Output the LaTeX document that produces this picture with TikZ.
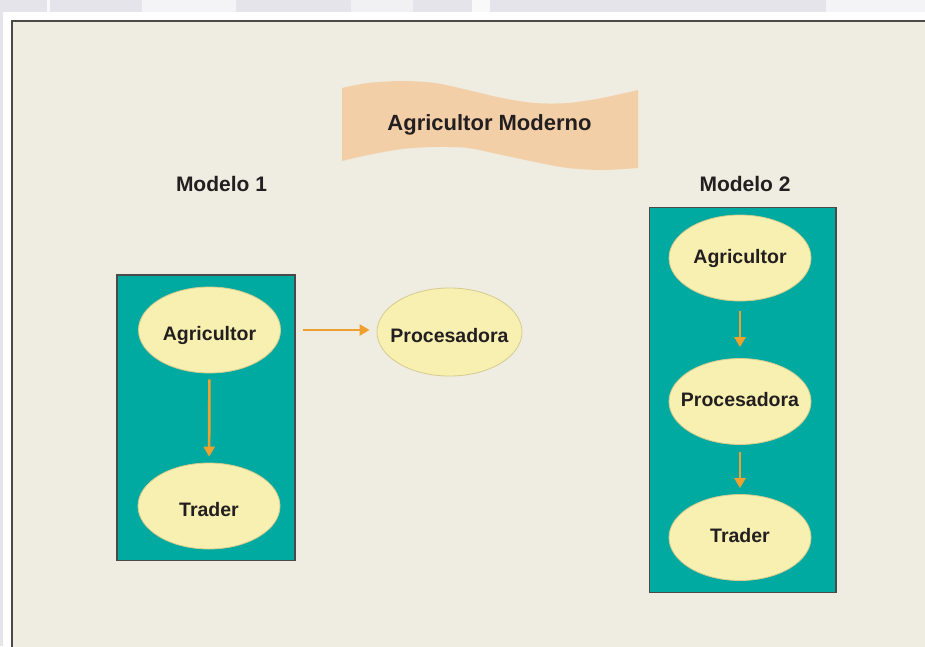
\documentclass[tikz,border=0pt]{standalone}
\usepackage{fontspec}
\setmainfont{Liberation Sans}
\usetikzlibrary{shapes.geometric,arrows.meta}

\definecolor{pagegray}{RGB}{228,228,234}
\definecolor{panelbg}{RGB}{239,236,225}
\definecolor{framegray}{RGB}{74,74,74}
\definecolor{tealbox}{RGB}{0,170,160}
\definecolor{bubble}{RGB}{248,240,176}
\definecolor{bubbleline}{RGB}{214,202,142}
\definecolor{flowarrow}{RGB}{240,160,46}
\definecolor{ribbon}{RGB}{243,207,168}
\definecolor{ink}{RGB}{35,31,32}

\tikzset{
  group/.style={draw=framegray, line width=1.5pt, fill=tealbox},
  bubblenode/.style={ellipse, draw=bubbleline, line width=0.8pt, fill=bubble,
    minimum width=142pt, minimum height=86pt, inner xsep=-15pt, inner ysep=0pt,
    font=\fontsize{19.5}{20}\selectfont\bfseries, text=ink, text depth=0pt},
  lowtext/.style={bubblenode, text height=20pt},
  hightext/.style={bubblenode, text height=10pt},
  heading/.style={anchor=base, text=ink, inner sep=0pt,
    font=\fontsize{21}{22}\selectfont\bfseries},
  flow/.style={draw=flowarrow, line width=2.6pt,
    -{Triangle[length=10pt,width=11pt]}},
}

\begin{document}
\begin{tikzpicture}[x=1pt,y=-1pt]
  \useasboundingbox (0,0) rectangle (925,646);
  \clip (0,0) rectangle (925,646);

  % page surround
  \fill[pagegray] (0,0) rectangle (925,646);
  \fill[white, opacity=0.6] (142,0) rectangle (236,12);
  \fill[white, opacity=0.5] (351,0) rectangle (413,12);
  \fill[white, opacity=0.8] (472,0) rectangle (490,12);
  \fill[white, opacity=0.8] (47,0) rectangle (50,12);
  \fill[white, opacity=0.6] (826,0) rectangle (925,12);
  \fill[white] (3,12) rectangle (925,646);

  % outer frame
  \filldraw[fill=panelbg, draw=framegray, line width=1.7pt]
    (11.8,21.2) rectangle (940,660);

  % title ribbon
  \fill[ribbon] plot[smooth] coordinates {(342,88) (368,83) (402,81) (435,83)
      (468,90) (502,98) (535,103) (568,103) (602,98) (638,90)}
    -- plot[smooth] coordinates {(638,168) (602,170) (568,168) (535,162)
      (502,155) (468,148) (435,147) (402,149) (368,155) (342,161)} -- cycle;
  \node[heading, font=\fontsize{22}{24}\selectfont\bfseries] (title)
    at (489.5,130) {Agricultor Moderno};

  % model headings
  \node[heading] (m1) at (221.5,191) {Modelo 1};
  \node[heading] (m2) at (745,191) {Modelo 2};

  % model 1
  \draw[group] (117,275) rectangle (295,560.5);
  \node[lowtext] (a1) at (209.5,330) {Agricultor};
  \node[lowtext] (t1) at (209,506) {Trader};
  \node[lowtext, minimum width=145pt, minimum height=88pt] (p1)
    at (449.5,332) {Procesadora};
  \draw[flow, shorten <=6pt, shorten >=6pt] (a1) -- (t1);
  \draw[flow, shorten <=22pt, shorten >=7pt] (a1) -- (a1 -| p1.west);

  % model 2
  \draw[group] (649.3,207.3) rectangle (836,592.3);
  \node[hightext] (a2) at (740,258) {Agricultor};
  \node[hightext] (p2) at (740,401.5) {Procesadora};
  \node[hightext] (t2) at (740,537.5) {Trader};
  \draw[flow, shorten <=10pt, shorten >=11pt] (a2) -- (p2);
  \draw[flow, shorten <=7pt, shorten >=6pt] (p2) -- (t2);
\end{tikzpicture}
\end{document}
